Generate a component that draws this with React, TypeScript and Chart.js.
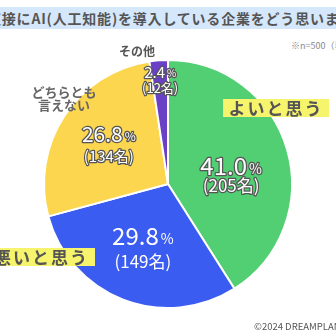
import React, { useEffect, useRef } from "react";
import { Chart, registerables } from "chart.js";

Chart.register(...registerables);

const categories = ["よいと思う", "悪いと思う", "どちらとも言えない", "その他"];
const percents = [41.0, 29.8, 26.8, 2.4];
const counts = [205, 149, 134, 12];

const colors = ["#52cf73", "#3a5cf0", "#fdd650", "#6a40c6"];
const FONT = "'Noto Sans CJK JP', 'Noto Sans', sans-serif";

// label styling per slice
const labelRadius = [0.53, 0.56, 0.57, 0.84];
const labelShiftY = [10, 0, 0, 0];
const numSize = [24, 24, 21, 15];
const pctSize = [14, 14, 12, 10];
const cntSize = [17, 17, 15, 13];
const lineGap = [19, 25, 22, 16];
const outline = [true, false, true, true];

const labelPlugin = {
  id: "sliceLabels",
  afterDatasetsDraw(chart: any) {
    const ctx = chart.ctx;
    const meta = chart.getDatasetMeta(0);
    meta.data.forEach((arc: any, i: number) => {
      const { x, y, startAngle, endAngle, outerRadius } = arc.getProps(
        ["x", "y", "startAngle", "endAngle", "outerRadius"],
        true
      );
      const mid = (startAngle + endAngle) / 2;
      const r = outerRadius * labelRadius[i];
      const cx = x + Math.cos(mid) * r;
      const cy = y + Math.sin(mid) * r + labelShiftY[i];
      const numText = percents[i].toFixed(1);
      const cntText = `(${counts[i]}名)`;
      ctx.save();
      ctx.textBaseline = "middle";
      ctx.lineJoin = "round";
      ctx.font = `400 ${numSize[i]}px ${FONT}`;
      const wNum = ctx.measureText(numText).width;
      ctx.font = `400 ${pctSize[i]}px ${FONT}`;
      const wPct = ctx.measureText("%").width;
      const total = wNum + 2 + wPct;
      const y1 = cy - lineGap[i] / 2;
      const y2 = cy + lineGap[i] / 2;
      const startX = cx - total / 2;
      const draw = (t: string, px: number, py: number) => {
        if (outline[i]) {
          ctx.strokeStyle = "#555";
          ctx.lineWidth = 2.5;
          ctx.strokeText(t, px, py);
        }
        ctx.fillStyle = "#fff";
        ctx.fillText(t, px, py);
      };
      ctx.textAlign = "left";
      ctx.font = `400 ${numSize[i]}px ${FONT}`;
      draw(numText, startX, y1);
      ctx.font = `400 ${pctSize[i]}px ${FONT}`;
      draw("%", startX + wNum + 2, y1 + numSize[i] * 0.1);
      ctx.textAlign = "center";
      ctx.font = `400 ${cntSize[i]}px ${FONT}`;
      draw(cntText, cx, y2);
      ctx.restore();
    });
  },
};

export default function App() {
  const ref = useRef<HTMLCanvasElement>(null);
  useEffect(() => {
    if (!ref.current) return;
    const chart = new Chart(ref.current, {
      type: "pie",
      data: {
        labels: categories,
        datasets: [
          {
            data: percents,
            backgroundColor: colors,
            borderColor: "#ffffff",
            borderWidth: 2,
          },
        ],
      },
      options: {
        responsive: false,
        animation: false,
        layout: { padding: { left: 43, right: 43, top: 59, bottom: 27 } },
        plugins: {
          legend: { display: false },
          tooltip: { enabled: false },
        },
      },
      plugins: [labelPlugin],
    });
    return () => chart.destroy();
  }, []);

  const labelStyle: React.CSSProperties = {
    position: "absolute",
    fontFamily: FONT,
    fontWeight: 700,
    color: "#555",
    whiteSpace: "nowrap",
  };

  return (
    <div
      style={{
        position: "fixed",
        left: 0,
        top: 0,
        width: 336,
        height: 336,
        overflow: "hidden",
        background: "#fff",
      }}
    >
      <div
        style={{
          position: "absolute",
          left: 0,
          top: 7,
          width: 336,
          height: 22,
          background: "#d5e7fb",
        }}
      />
      <div
        style={{
          ...labelStyle,
          left: -13,
          top: 7,
          height: 22,
          lineHeight: "22px",
          fontSize: 14,
          letterSpacing: 0.8,
          color: "#555",
        }}
      >
        直接にAI(人工知能)を導入している企業をどう思いますか？
      </div>
      <div
        style={{
          position: "absolute",
          left: 291,
          top: 39,
          fontFamily: FONT,
          fontSize: 9,
          color: "#888",
          whiteSpace: "nowrap",
        }}
      >
        ※n=500（単一回答）
      </div>
      <canvas
        ref={ref}
        width={336}
        height={336}
        style={{ position: "absolute", left: 0, top: 0 }}
      />
      <div style={{ ...labelStyle, left: 119, top: 43, fontSize: 12, lineHeight: "16px" }}>
        {categories[3]}
      </div>
      <div
        style={{
          ...labelStyle,
          left: 22,
          top: 85,
          width: 84,
          textAlign: "center",
          fontSize: 13,
          lineHeight: "13px",
          color: "#666",
          whiteSpace: "normal",
        }}
      >
        どちらとも
        <br />
        言えない
      </div>
      <div
        style={{
          ...labelStyle,
          left: 223,
          top: 99,
          width: 106,
          height: 18,
          background: "#f6f46c",
          fontSize: 17,
          lineHeight: "18px",
          letterSpacing: 2,
          textAlign: "center",
        }}
      >
        {categories[0]}
      </div>
      <div
        style={{
          ...labelStyle,
          left: -12,
          top: 248,
          width: 107,
          height: 18,
          background: "#f6f46c",
          fontSize: 17,
          lineHeight: "18px",
          letterSpacing: 2,
          textAlign: "center",
        }}
      >
        {categories[1]}
      </div>
      <div
        style={{
          position: "absolute",
          left: 254,
          top: 319,
          fontFamily: FONT,
          fontSize: 9.5,
          color: "#555",
          whiteSpace: "nowrap",
        }}
      >
        ©2024 DREAMPLANNING
      </div>
    </div>
  );
}
